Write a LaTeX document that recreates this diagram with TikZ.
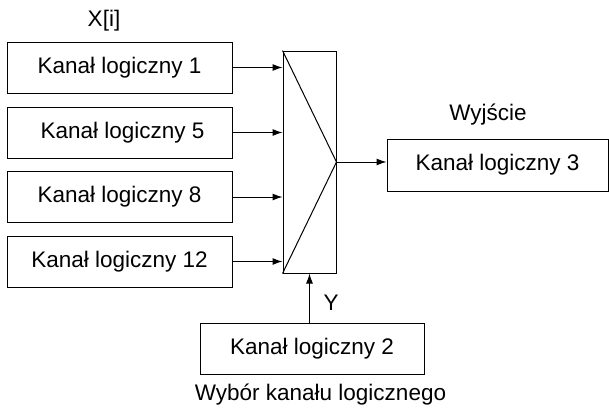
\documentclass[tikz,border=0pt]{standalone}
\usepackage{fontspec}
\setmainfont{Liberation Sans}
\usetikzlibrary{arrows.meta}
\begin{document}
\begin{tikzpicture}[x=1pt,y=-1pt,line width=1pt,
	font=\fontsize{22.5}{27}\selectfont,
	kanal/.style={draw,rectangle,inner sep=0pt,minimum width=225pt,minimum height=51pt},
	strz/.style={-{Latex[length=10pt,width=7pt]}}]
	\useasboundingbox (0,0) rectangle (609,407);

	\node[kanal] (k1) at (119.5,67.5){Kanał logiczny 1};
	\node[kanal] (k5) at (119.5,132.5){\hspace{6pt}Kanał logiczny 5};
	\node[kanal] (k8) at (119.5,197){Kanał logiczny 8\hspace{8pt}};
	\node[kanal] (k12) at (119.5,261.5){Kanał logiczny 12};
	\node (xi) at (104,21){X[i]};

	\node[draw,rectangle,inner sep=0pt,minimum width=53pt,minimum height=222pt] (mux) at (309.5,162){};
	\draw (mux.north west) -- (mux.east) -- (mux.south west);

	\draw[strz] (k1.east) -- (k1.east -| mux.west);
	\draw[strz] (k5.east) -- (k5.east -| mux.west);
	\draw[strz] (k8.east) -- (k8.east -| mux.west);
	\draw[strz] (k12.east) -- (k12.east -| mux.west);

	\node[kanal,minimum width=221pt,minimum height=52pt] (wy) at (497.5,165){Kanał logiczny 3};
	\node (wyj) at (488,115){Wyjście};
	\draw[strz] (mux.east) -- (mux.east -| wy.west);

	\node[kanal,minimum width=224pt] (wyb) at (312,348.5){Kanał logiczny 2};
	\draw[strz] (mux.south |- wyb.north) -- (mux.south);
	\node (y) at (331,303){Y};
	\node (opis) at (320.5,395){Wybór kanału logicznego};

\end{tikzpicture}
\end{document}
